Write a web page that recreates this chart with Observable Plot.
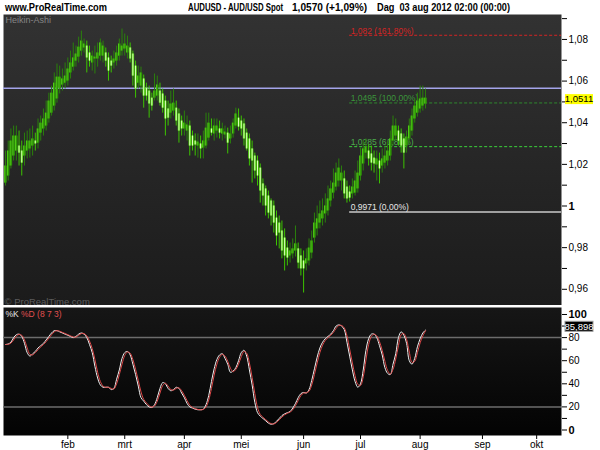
<!DOCTYPE html>
<html><head><meta charset="utf-8">
<script src="https://cdn.jsdelivr.net/npm/d3@7"></script>
<script src="https://cdn.jsdelivr.net/npm/@observablehq/plot@0.6"></script>
<style>
body{margin:0;background:#fff;}
#wrap{position:relative;width:600px;height:450px;overflow:hidden;background:#fff;font-family:"Liberation Sans",Arial,sans-serif;}
.hd{position:absolute;top:1px;font:bold 11px "Liberation Sans",Arial,sans-serif;line-height:12px;white-space:pre;transform-origin:0 0;color:#000;}
#main{position:absolute;left:0;top:14px;}
#stoch{position:absolute;left:0;top:307px;}
</style></head><body>
<div id="wrap">
<div class="hd" data-x="5" data-w="102">www.ProRealTime.com</div>
<div class="hd" data-x="188" data-w="95">AUDUSD - AUD/USD Spot</div>
<div class="hd" data-x="292" data-w="75">1,0570 (+1,09%)</div>
<div class="hd" data-x="377" data-w="133">Dag  03 aug 2012 02:00 (00:00)</div>
<div id="main"></div><div id="stoch"></div></div>
<script>
// ---------- DATA ----------
const firstBarDate = "2011-12-30";
const monthNames = ["jan","feb","mrt","apr","mei","jun","jul","aug","sep","okt","nov","dec"];
const haOpen = [1.0110,1.0144,1.0192,1.0240,1.0264,1.0288,1.0264,1.0240,1.0264,1.0274,
1.0288,1.0312,1.0302,1.0350,1.0370,1.0384,1.0418,1.0446,1.0480,1.0514,
1.0562,1.0581,1.0590,1.0600,1.0639,1.0667,1.0696,1.0715,1.0744,1.0759,
1.0768,1.0735,1.0687,1.0706,1.0706,1.0720,1.0720,1.0735,1.0711,1.0696,
1.0687,1.0696,1.0720,1.0744,1.0754,1.0735,1.0759,1.0730,1.0672,1.0590,
1.0576,1.0610,1.0566,1.0552,1.0518,1.0518,1.0528,1.0552,1.0538,1.0504,
1.0466,1.0446,1.0456,1.0470,1.0442,1.0408,1.0370,1.0360,1.0384,1.0336,
1.0312,1.0288,1.0298,1.0278,1.0288,1.0326,1.0370,1.0346,1.0360,1.0370,
1.0346,1.0341,1.0350,1.0322,1.0346,1.0384,1.0422,1.0408,1.0394,1.0350,
1.0322,1.0274,1.0240,1.0216,1.0182,1.0106,1.0082,1.0048,1.0024,1.0000,
0.9942,0.9918,0.9880,0.9846,0.9798,0.9760,0.9770,0.9784,0.9794,0.9760,
0.9736,0.9722,0.9736,0.9774,0.9846,0.9890,0.9918,0.9938,0.9962,0.9976,
1.0024,1.0062,1.0091,1.0120,1.0120,1.0130,1.0091,1.0067,1.0058,1.0062,
1.0082,1.0144,1.0202,1.0254,1.0264,1.0250,1.0230,1.0197,1.0216,1.0192,
1.0206,1.0216,1.0240,1.0312,1.0336,1.0360,1.0346,1.0322,1.0288,1.0322,
1.0360,1.0418,1.0446,1.0466,1.0480,1.0490];
const haClose = [1.0192,1.0264,1.0312,1.0336,1.0336,1.0254,1.0206,1.0288,1.0312,1.0312,
1.0322,1.0298,1.0370,1.0398,1.0418,1.0446,1.0504,1.0542,1.0590,1.0619,
1.0619,1.0610,1.0624,1.0658,1.0687,1.0711,1.0730,1.0763,1.0792,1.0778,
1.0711,1.0696,1.0720,1.0715,1.0735,1.0783,1.0768,1.0696,1.0648,1.0672,
1.0706,1.0735,1.0778,1.0768,1.0778,1.0768,1.0706,1.0624,1.0562,1.0624,
1.0639,1.0528,1.0528,1.0490,1.0480,1.0552,1.0581,1.0494,1.0470,1.0418,
1.0422,1.0490,1.0494,1.0408,1.0360,1.0370,1.0398,1.0389,1.0288,1.0288,
1.0293,1.0307,1.0274,1.0312,1.0374,1.0398,1.0350,1.0384,1.0384,1.0350,
1.0370,1.0355,1.0302,1.0346,1.0398,1.0442,1.0379,1.0370,1.0322,1.0274,
1.0226,1.0216,1.0168,1.0144,1.0072,1.0048,1.0000,0.9966,0.9952,0.9918,
0.9856,0.9870,0.9784,0.9760,0.9750,0.9784,0.9794,0.9818,0.9726,0.9698,
0.9698,0.9746,0.9798,0.9832,0.9918,0.9938,0.9962,0.9976,1.0000,1.0034,
1.0082,1.0110,1.0158,1.0182,1.0158,1.0058,1.0034,1.0038,1.0091,1.0120,
1.0158,1.0240,1.0274,1.0283,1.0226,1.0206,1.0202,1.0226,1.0178,1.0226,
1.0240,1.0264,1.0322,1.0384,1.0384,1.0312,1.0288,1.0254,1.0331,1.0384,
1.0432,1.0480,1.0504,1.0514,1.0518,1.0518];
const haHigh = [1.0264,1.0312,1.0370,1.0384,1.0384,1.0360,1.0312,1.0350,1.0360,1.0370,
1.0384,1.0350,1.0418,1.0432,1.0466,1.0504,1.0542,1.0576,1.0639,1.0682,
1.0672,1.0658,1.0687,1.0711,1.0744,1.0783,1.0768,1.0811,1.0840,1.0802,
1.0792,1.0768,1.0744,1.0768,1.0783,1.0802,1.0792,1.0759,1.0735,1.0720,
1.0744,1.0768,1.0802,1.0850,1.0826,1.0816,1.0783,1.0744,1.0696,1.0672,
1.0667,1.0629,1.0590,1.0576,1.0542,1.0634,1.0624,1.0590,1.0562,1.0528,
1.0504,1.0552,1.0562,1.0504,1.0466,1.0432,1.0456,1.0432,1.0408,1.0360,
1.0346,1.0346,1.0336,1.0360,1.0446,1.0446,1.0418,1.0418,1.0418,1.0408,
1.0398,1.0384,1.0374,1.0384,1.0418,1.0470,1.0466,1.0432,1.0418,1.0370,
1.0346,1.0312,1.0254,1.0240,1.0202,1.0130,1.0096,1.0072,1.0034,1.0024,
0.9976,0.9952,0.9928,0.9890,0.9832,0.9822,0.9842,0.9904,0.9822,0.9794,
0.9784,0.9794,0.9842,0.9880,0.9966,1.0000,1.0024,1.0034,1.0058,1.0096,
1.0120,1.0178,1.0206,1.0226,1.0192,1.0168,1.0120,1.0096,1.0130,1.0168,
1.0216,1.0278,1.0312,1.0322,1.0293,1.0288,1.0264,1.0264,1.0254,1.0274,
1.0288,1.0312,1.0360,1.0432,1.0418,1.0384,1.0370,1.0346,1.0360,1.0418,
1.0466,1.0514,1.0542,1.0576,1.0576,1.0562];
const haLow = [1.0096,1.0120,1.0178,1.0216,1.0216,1.0192,1.0144,1.0192,1.0226,1.0230,
1.0240,1.0264,1.0274,1.0312,1.0336,1.0360,1.0398,1.0432,1.0456,1.0494,
1.0538,1.0552,1.0562,1.0576,1.0610,1.0648,1.0667,1.0687,1.0720,1.0735,
1.0639,1.0667,1.0648,1.0634,1.0667,1.0696,1.0687,1.0667,1.0600,1.0639,
1.0658,1.0672,1.0696,1.0720,1.0720,1.0706,1.0687,1.0576,1.0518,1.0562,
1.0542,1.0470,1.0504,1.0422,1.0456,1.0504,1.0504,1.0480,1.0446,1.0336,
1.0384,1.0418,1.0432,1.0384,1.0302,1.0336,1.0336,1.0312,1.0240,1.0264,
1.0240,1.0230,1.0226,1.0226,1.0274,1.0312,1.0336,1.0312,1.0326,1.0322,
1.0312,1.0322,1.0250,1.0298,1.0326,1.0370,1.0360,1.0336,1.0288,1.0264,
1.0192,1.0110,1.0130,1.0096,1.0014,1.0000,0.9952,0.9938,0.9904,0.9870,
0.9808,0.9794,0.9746,0.9688,0.9712,0.9726,0.9746,0.9755,0.9698,0.9664,
0.9582,0.9688,0.9712,0.9746,0.9822,0.9856,0.9890,0.9904,0.9918,0.9952,
0.9995,1.0034,1.0072,1.0091,1.0072,1.0034,1.0014,1.0019,1.0034,1.0048,
1.0062,1.0120,1.0168,1.0226,1.0192,1.0168,1.0158,1.0120,1.0106,1.0158,
1.0178,1.0192,1.0216,1.0288,1.0312,1.0288,1.0254,1.0178,1.0254,1.0298,
1.0336,1.0398,1.0427,1.0446,1.0456,1.0466];
const stochK = [74,74.5,76,80,82.5,83,81,75,67,64,
66,68,71,73,75,78,81,84,86,86,
85,84,83,82,81,80,81,83,84,83,
80,74,67,55,45,39,37,37,37,35,
36,44,52,62,67,68,65,57,48,38,
28,25,22,20,19.5,22,28,36,41,40,
36,34,35,37,36,32,28,23,20,19,
18,17.5,17.5,18,22,30,42,53,61,65,
66,62,57,50,51,54,60,67,69,64,
52,39,24,15,12,10,8,6,5,5.5,
7.5,10,12.5,14,15,16,19,23,28,31.5,
32.5,32,35,43,53,63,71,76,79,81,
83,86,90,91,90,87,76,64,52,42,
37,40,52,69,79,83,83,80,73,65,
54,49,48,57,66,80,85,82,75,60,
57,62,72,79,84,86.5];
const stochD = [74,74.2,75.2,78,81.2,82.8,82,78,71,65.5,
65,67,69.5,72,74,76.5,79.5,82.5,85,86,
85.5,84.5,83.5,82.5,81.5,80.5,80.5,82,83.5,83.5,
81.5,77,70.5,61,50,42,38,37,37,36,
35.5,40,48,57,64.5,67.5,66.5,61,52.5,43,
33,26.5,23.5,21,19.8,20.8,25,32,38.5,40.5,
38,35,34.5,36,36.5,34,30,25.5,21.5,19.5,
18.5,17.8,17.5,17.8,20,26,36,47.5,57,63,
65.5,64,59.5,53.5,50.5,52.5,57,63.5,68,66.5,
58,45.5,31.5,19.5,13.5,11,9,7,5.5,5.2,
6.5,8.8,11.2,13.2,14.5,15.5,17.5,21,25.5,29.8,
32,32.2,33.5,39,48,58,67,73.5,77.5,80,
82,84.5,88,90.5,90.5,88.5,81.5,70,58,47,
39.5,38.5,46,60.5,74,81,83,81.5,76.5,69,
59.5,51.5,48.5,52.5,61.5,73,82.5,83.5,78.5,67.5,
58.5,59.5,67,75.5,81.5,85.9];
const lastPrice = 1.0511;
const lastStoch = 85.898;
const userLine = 1.0565;
const fibStartDate = "2012-06-26";
const fibLevels = [1.082, 1.0495, 1.0285, 0.9971];
const fibLabels = ["1,082 (161,80%)", "1,0495 (100,00%)", "1,0285 (61,80%)", "0,9971 (0,00%)"];
const stochBands = [80, 20];
const stochTitleK = "%K";
const stochTitleD = "%D (8 7 3)";

// ---------- HEADER (condensed to the reference widths) ----------
document.querySelectorAll(".hd").forEach(el => {
  el.style.left = el.dataset.x + "px";
  const natural = el.getBoundingClientRect().width;
  el.style.transform = "scaleX(" + (+el.dataset.w / natural) + ")";
});

// ---------- CALENDAR (trading days) ----------
const tradingDays = [];
for (let t = Date.parse(firstBarDate + "T00:00:00Z"); t <= Date.parse("2012-10-31T00:00:00Z"); t += 864e5) {
  const d = new Date(t); const wd = d.getUTCDay();
  if (wd !== 0 && wd !== 6) tradingDays.push(d);
}
const monthTicks = [];
tradingDays.forEach((d, i) => {
  if (i > 10 && d.getUTCMonth() !== tradingDays[i - 1].getUTCMonth()) monthTicks.push({i, label: monthNames[d.getUTCMonth()]});
});
const fibStart = tradingDays.findIndex(d => d.toISOString().slice(0, 10) === fibStartDate);

const bars = haOpen.map((o, i) => ({i, open: o, close: haClose[i], high: haHigh[i], low: haLow[i]}));
const upBars = bars.filter(d => d.close >= d.open);
const dnBars = bars.filter(d => d.close < d.open);

const W = 600, ML = 3, MR = 39;
const pxPerBar = 2.71;
// domain so that bar 0 sits at x=5 and the plot spans [3, 561]
const xDomain = [(ML - 5) / pxPerBar, (W - MR - 5) / pxPerBar];

const FONT = "'Liberation Sans', Arial, sans-serif";
const comma = v => (Math.abs(v - 1) < 1e-9 ? "1" : v.toFixed(2).replace(".", ","));

const fibStyle = [
  {stroke: "#d42424", text: "#d42424", dash: "3,2", width: 1},
  {stroke: "#2f8a2f", text: "#3b953b", dash: "3,2", width: 1},
  {stroke: "#3bd23b", text: "#4cab4c", dash: "3,2", width: 1},
  {stroke: "#a0a0a0", text: "#e6e6e6", dash: null, width: 2}
];
const fibMarks = [];
fibLevels.forEach((lv, k) => {
  const s = fibStyle[k];
  fibMarks.push(Plot.ruleY([lv], {x1: fibStart, x2: xDomain[1], stroke: s.stroke, strokeWidth: s.width, strokeDasharray: s.dash}));
  fibMarks.push(Plot.text([lv], {x: fibStart, y: d => d, text: () => fibLabels[k], textAnchor: "start", dx: 1, dy: -4.5, fill: s.text, fontSize: 8.5}));
});

const mainPlot = Plot.plot({
  width: W, height: 291, marginTop: 0, marginBottom: 0, marginLeft: ML, marginRight: MR,
  style: {fontFamily: FONT, fontSize: "10px", background: "#fff", color: "#000"},
  x: {domain: xDomain, axis: null},
  y: {domain: [0.95221, 1.09198], axis: "right", ticks: d3.range(96, 110).map(v => v / 100),
      tickFormat: v => (Math.round(v * 100) % 2 === 0 ? comma(v) : ""), tickSize: 5, tickPadding: 2, label: null},
  marks: [
    Plot.frame({fill: "url(#gMain)", stroke: "none"}),
    Plot.text(["Heikin-Ashi"], {frameAnchor: "top-left", text: d => d, dx: 2, dy: 2, fill: "#858585", fontSize: 9}),
    Plot.text(["\u00a9 ProRealTime.com"], {frameAnchor: "bottom-left", text: d => d, dx: 1, dy: -1, fill: "#5c5c5c", fontSize: 9.5}),
    Plot.ruleY([userLine], {stroke: "#a4a4ea", strokeWidth: 1.5}),
    ...fibMarks,
    Plot.ruleX(upBars, {x: "i", y1: "low", y2: "high", stroke: "#2a800c", strokeWidth: 1}),
    Plot.ruleX(dnBars, {x: "i", y1: "low", y2: "high", stroke: "#3cc400", strokeWidth: 1}),
    Plot.ruleX(upBars, {x: "i", y1: "open", y2: "close", stroke: "#2e9606", strokeWidth: 2.5}),
    Plot.ruleX(upBars, {x: "i", y1: "open", y2: "close", stroke: "#5ad81c", strokeWidth: 0.8, dx: -0.8}),
    Plot.ruleX(dnBars, {x: "i", y1: "open", y2: "close", stroke: "#48d000", strokeWidth: 2.5}),
    Plot.ruleX(dnBars, {x: "i", y1: "open", y2: "close", stroke: "#e0ffc4", strokeWidth: 1})
  ]
});

const stochPlot = Plot.plot({
  width: W, height: 143, marginTop: 0, marginBottom: 15, marginLeft: ML, marginRight: MR,
  style: {fontFamily: FONT, fontSize: "10px", background: "#fff", color: "#000"},
  x: {domain: xDomain, ticks: monthTicks.map(d => d.i), tickFormat: i => (monthTicks.find(m => m.i === i) || {}).label, tickSize: 4, tickPadding: 1, label: null},
  y: {domain: [-4.76, 106.06], axis: "right", ticks: d3.range(0, 101, 10), tickFormat: v => (v % 20 === 0 ? String(v) : ""), tickSize: 5, tickPadding: 2, label: null},
  marks: [
    Plot.frame({fill: "url(#gStoch)", stroke: "none"}),
    Plot.ruleY(stochBands, {stroke: "#6c6c6c", strokeWidth: 1.5}),
    Plot.lineY(stochK, {stroke: "#f0f0f0", strokeWidth: 1, curve: "catmull-rom"}),
    Plot.lineY(stochD, {stroke: "#e04848", strokeWidth: 1, curve: "catmull-rom"}),
    Plot.text([stochTitleK], {frameAnchor: "top-left", text: d => d, dx: 2, dy: 3, fill: "#e6e6e6", fontSize: 8.5}),
    Plot.text([stochTitleD], {frameAnchor: "top-left", text: d => d, dx: 17.5, dy: 3, fill: "#e05050", fontSize: 8.5})
  ]
});

function addGrad(svg, id, c1, c2) {
  const defs = d3.select(svg).insert("defs", ":first-child");
  const g = defs.append("linearGradient").attr("id", id).attr("x1", 0).attr("y1", 0).attr("x2", 0).attr("y2", 1);
  g.append("stop").attr("offset", "0%").attr("stop-color", c1);
  g.append("stop").attr("offset", "100%").attr("stop-color", c2);
}
addGrad(mainPlot, "gMain", "#323232", "#1b1b1b");
addGrad(stochPlot, "gStoch", "#161616", "#030303");

d3.select(mainPlot).selectAll("text").filter(function () { return this.textContent === "1"; })
  .attr("font-weight", "bold").attr("font-size", 11);
d3.select(stochPlot).selectAll("text").filter(function () { return this.textContent === "100" || this.textContent === "0"; })
  .attr("font-weight", "bold").attr("font-size", 11);

// value boxes on the right axis, placed through the plots' own y scales
function valueBox(svg, scale, value, text, fill, color, stroke, shift) {
  const y = scale.apply(value) + (shift || 0);
  const s = d3.select(svg);
  s.append("rect").attr("x", 565).attr("y", y - 5).attr("width", 28).attr("height", 10)
    .attr("fill", fill).attr("stroke", stroke || "none");
  s.append("text").attr("x", 579).attr("y", y).attr("dy", "0.35em").attr("text-anchor", "middle")
    .attr("font-size", 9.5).attr("font-family", FONT).attr("fill", color).text(text);
}
valueBox(mainPlot, mainPlot.scale("y"), lastPrice, lastPrice.toFixed(4).replace(".", ","), "#ffff00", "#000");
valueBox(stochPlot, stochPlot.scale("y"), lastStoch, lastStoch.toFixed(3).replace(".", ","), "#000", "#fff", "#9a9a9a", -4);

document.getElementById("main").appendChild(mainPlot);
document.getElementById("stoch").appendChild(stochPlot);
</script>
</body></html>
